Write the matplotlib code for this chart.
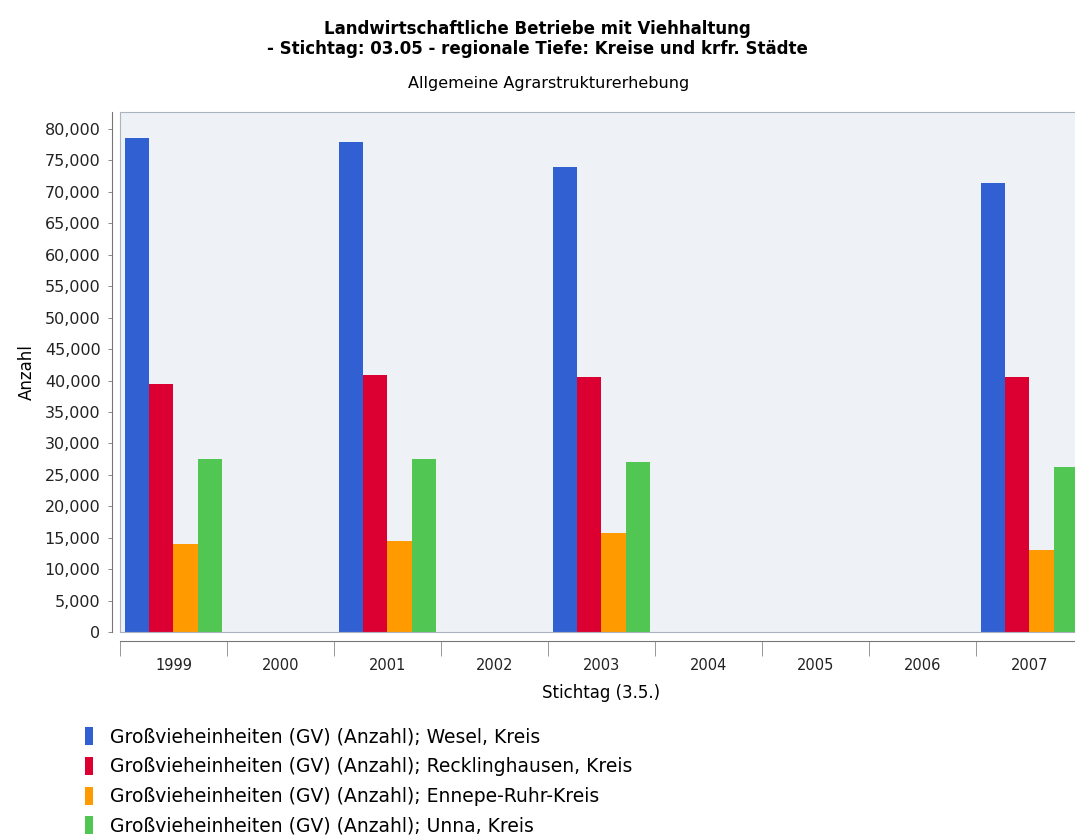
import numpy as np
import matplotlib as mpl
mpl.use('Agg')
import matplotlib.pyplot as plt
from matplotlib.patches import Rectangle
from matplotlib.ticker import FuncFormatter, MultipleLocator

years = ["1999", "2000", "2001", "2002", "2003", "2004", "2005", "2006", "2007"]
# values per year, None = no survey that year
wesel = [78600, None, 77900, None, 74000, None, None, None, 71400]
recklinghausen = [39400, None, 40800, None, 40600, None, None, None, 40500]
ennepe_ruhr = [14000, None, 14400, None, 15700, None, None, None, 13000]
unna = [27500, None, 27500, None, 27100, None, None, None, 26300]

labels = ["Großvieheinheiten (GV) (Anzahl); Wesel, Kreis",
          "Großvieheinheiten (GV) (Anzahl); Recklinghausen, Kreis",
          "Großvieheinheiten (GV) (Anzahl); Ennepe-Ruhr-Kreis",
          "Großvieheinheiten (GV) (Anzahl); Unna, Kreis"]
colors = ["#3160d2", "#dc0032", "#ff9a00", "#52c652"]

fig = plt.figure(figsize=(10.75, 8.39), dpi=100)
ax = fig.add_axes([0.1116, 0.2467, 0.8958, 0.6198])
ax.set_facecolor("#eef2f6")

series = [wesel, recklinghausen, ennepe_ruhr, unna]
x = np.arange(len(years))
w = 0.225
for k, s in enumerate(series):
    vals = np.array([np.nan if v is None else v for v in s], dtype=float)
    ax.bar(x + (k - 1.5) * w, vals, w, color=colors[k], label=labels[k], zorder=3)

ax.set_xlim(-0.5, len(years) - 0.5)
ax.set_ylim(0, 82700)
ax.yaxis.set_major_locator(MultipleLocator(5000))
ax.yaxis.set_major_formatter(FuncFormatter(lambda v, p: "{:,}".format(int(v))))

ax.set_xticks(x)
ax.set_xticklabels(years)
ax.set_xticks(np.arange(-0.5, len(years), 1), minor=True)
ax.tick_params(axis='x', which='major', length=0, pad=12, labelsize=10.5, colors="#222222")
ax.tick_params(axis='x', which='minor', length=11, width=0.6, color="#888888")
ax.tick_params(axis='y', length=3, width=0.6, pad=5, color="#777777", labelsize=11.5, labelcolor="#222222")

for sp in ["top", "right"]:
    ax.spines[sp].set_visible(False)
ax.spines['left'].set_position(('outward', 6))
ax.spines['bottom'].set_position(('outward', 6.5))
ax.spines['left'].set_color("#777777")
ax.spines['bottom'].set_color("#777777")
ax.spines['left'].set_linewidth(0.8)
ax.spines['bottom'].set_linewidth(0.8)

# plot border
ax.add_patch(Rectangle((0, 0), 1, 1, transform=ax.transAxes, fill=False,
                       edgecolor="#aab4c0", lw=0.8, clip_on=False, zorder=4))

ax.set_ylabel("Anzahl", fontsize=12, labelpad=6)
ax.set_xlabel("Stichtag (3.5.)", fontsize=12, labelpad=8)

fig.text(0.5, 0.953, "Landwirtschaftliche Betriebe mit Viehhaltung\n- Stichtag: 03.05 - regionale Tiefe: Kreise und krfr. Städte",
         ha='center', va='center', fontsize=12, fontweight='bold', linespacing=1.15)
fig.text(0.51, 0.900, "Allgemeine Agrarstrukturerhebung", ha='center', va='center', fontsize=11.5)

h, l = ax.get_legend_handles_labels()
fig.legend(h, l, loc='upper left', bbox_to_anchor=(0.072, 0.142), frameon=False,
           fontsize=13.5, handlelength=0.45, handleheight=1.1, handletextpad=0.9,
           labelspacing=0.55, borderaxespad=0)

plt.savefig("out.png", dpi=100)
